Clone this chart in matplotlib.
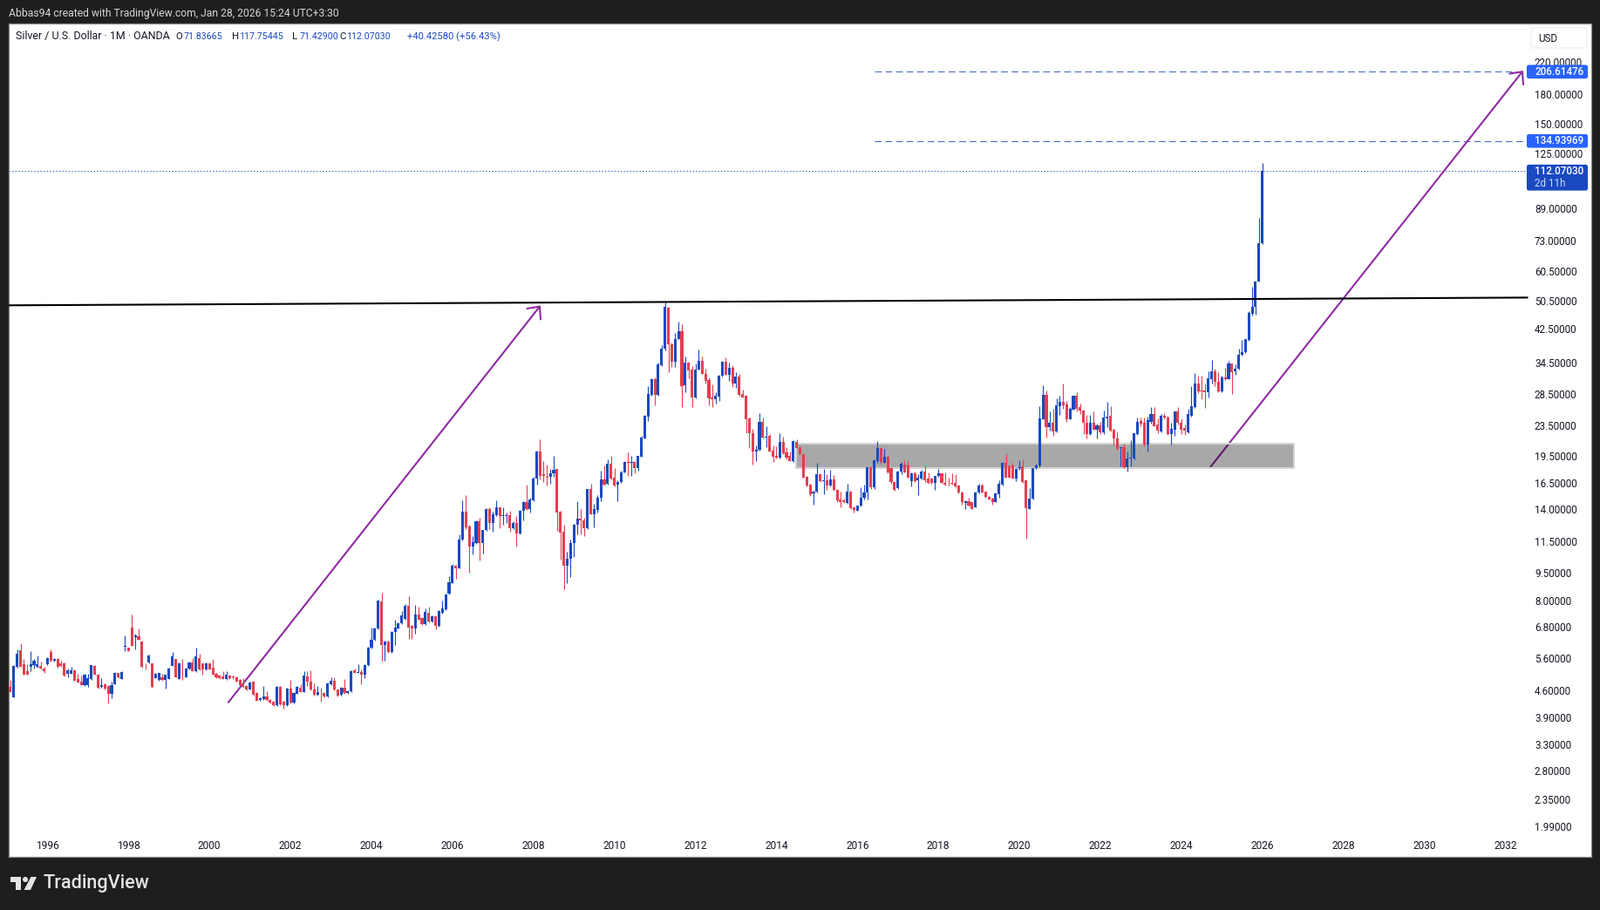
import numpy as np
import matplotlib
matplotlib.use('Agg')
import matplotlib.pyplot as plt
from matplotlib.patches import FancyBboxPatch, Rectangle, Polygon, Circle

# monthly candles, Feb 1995 to Jan 2026
opens = [
    4.70, 4.41, 5.32, 5.88, 5.41, 5.16, 5.32, 5.37, 5.32, 5.34,
    5.25, 5.40, 5.82, 5.52, 5.58, 5.43, 5.43, 5.08, 5.10, 5.21,
    4.93, 4.84, 4.74, 4.75, 4.93, 5.34, 5.07, 4.69, 4.78, 4.71,
    4.49, 4.78, 5.11, 4.94, 6.02, 5.97, 6.78, 6.39, 6.41, 6.21,
    5.38, 5.46, 5.42, 4.96, 4.89, 4.97, 4.89, 4.94, 5.35, 5.57,
    4.94, 4.94, 4.99, 5.26, 5.46, 5.16, 5.60, 5.42, 5.22, 5.42,
    5.29, 5.08, 5.03, 5.01, 4.93, 5.03, 5.02, 4.99, 4.91, 4.78,
    4.72, 4.63, 4.84, 4.53, 4.33, 4.35, 4.43, 4.33, 4.28, 4.20,
    4.69, 4.28, 4.19, 4.65, 4.26, 4.51, 4.68, 4.56, 5.02, 4.85,
    4.61, 4.47, 4.55, 4.53, 4.43, 4.78, 4.87, 4.61, 4.47, 4.68,
    4.53, 4.57, 5.20, 5.13, 5.15, 5.06, 5.36, 5.97, 6.28, 6.71,
    7.94, 6.08, 6.21, 5.81, 6.58, 6.74, 6.93, 7.13, 7.73, 6.83,
    6.74, 7.33, 7.17, 6.90, 7.39, 7.03, 7.24, 6.83, 7.39, 7.56,
    8.32, 8.9, 9.9, 9.75, 11.6, 13.83, 12.6, 11.15, 11.4, 12.98,
    11.4, 12.3, 14.0, 12.9, 13.5, 14.15, 13.45, 13.45, 13.5, 12.45,
    12.9, 12.05, 13.85, 14.6, 14.0, 14.8, 16.9, 20.0, 17.4, 17.1,
    17.1, 17.5, 17.9, 13.8, 12.2, 9.9, 10.33, 11.4, 12.7, 13.2,
    13.05, 12.45, 15.85, 13.6, 13.95, 15.0, 16.8, 16.35, 18.5, 17.0,
    16.3, 16.6, 17.6, 18.7, 18.6, 18.7, 18.05, 19.35, 21.7, 24.7,
    28.3, 31.1, 28.25, 33.9, 37.6, 48.5, 38.7, 34.7, 39.9, 41.85,
    30.0, 34.5, 33.0, 27.85, 33.1, 34.9, 32.25, 31.05, 27.85, 27.6,
    28.0, 31.8, 34.65, 32.1, 33.5, 30.3, 31.7, 28.4, 28.2, 24.5,
    22.3, 19.95, 20.2, 23.95, 21.8, 22.0, 20.1, 19.5, 19.2, 21.15,
    19.9, 19.4, 18.85, 21.15, 20.5, 19.65, 17.1, 16.3, 15.45, 15.6,
    17.35, 16.65, 16.7, 16.2, 16.8, 15.8, 14.85, 14.8, 14.55, 15.65,
    14.15, 13.9, 14.3, 15.0, 15.5, 18.1, 16.0, 18.8, 20.4, 18.65,
    19.35, 18.05, 16.6, 15.95, 17.65, 18.45, 18.35, 16.65, 17.5, 16.7,
    16.9, 17.7, 16.9, 16.9, 16.45, 17.15, 17.45, 16.5, 16.5, 16.5,
    16.5, 16.2, 15.55, 14.55, 14.7, 14.6, 14.2, 15.5, 16.25, 15.6,
    15.15, 14.95, 14.65, 15.4, 16.3, 18.6, 18.25, 18.3, 16.95, 18.05,
    18.25, 16.7, 14.05, 14.95, 18.0, 18.3, 24.4, 28.35, 23.2, 23.8,
    22.6, 26.4, 27.1, 26.7, 24.4, 25.9, 28.1, 26.2, 25.7, 23.9,
    22.2, 23.9, 22.9, 23.5, 22.5, 24.5, 24.9, 22.8, 21.7, 20.4,
    20.5, 18.1, 19.1, 19.1, 22.2, 24.1, 23.8, 20.9, 24.0, 25.1,
    23.6, 22.6, 24.9, 24.6, 22.2, 22.9, 25.5, 23.9, 23.1, 22.5,
    24.9, 26.3, 30.4, 29.1, 29.0, 28.7, 31.2, 32.7, 30.6, 28.9,
    31.5, 31.2, 34.3, 32.8, 33.2, 36.2, 36.9, 39.6, 46.7, 48.7,
    56.9, 71.83665,
]
highs = [
    4.89, 5.36, 5.92, 6.13, 5.58, 5.41, 5.86, 5.58, 5.71, 5.48,
    5.32, 5.65, 5.92, 5.61, 5.61, 5.51, 5.45, 5.25, 5.32, 5.23,
    5.08, 5.03, 5.08, 5.08, 5.38, 5.37, 5.10, 4.95, 4.80, 4.74,
    4.84, 5.15, 5.13, 5.17, 6.44, 5.98, 7.33, 6.50, 6.72, 6.23,
    5.43, 5.72, 5.44, 5.11, 5.13, 5.10, 5.07, 5.29, 5.81, 5.59,
    5.45, 5.58, 5.28, 5.50, 5.61, 5.98, 5.76, 5.44, 5.46, 5.44,
    5.58, 5.12, 5.05, 5.16, 5.18, 5.05, 5.04, 5.01, 4.93, 4.95,
    4.74, 4.85, 4.88, 4.55, 4.40, 4.72, 4.57, 4.35, 4.29, 4.73,
    4.71, 4.30, 4.68, 4.91, 4.56, 4.73, 4.78, 5.16, 5.18, 5.20,
    4.80, 4.72, 4.67, 4.55, 4.83, 4.99, 4.99, 4.63, 4.70, 4.93,
    4.60, 5.20, 5.25, 5.39, 5.22, 5.39, 6.02, 6.78, 6.78, 8.03,
    8.38, 6.25, 6.23, 6.62, 7.10, 7.00, 7.50, 7.83, 8.20, 6.86,
    7.77, 7.69, 7.20, 7.60, 7.69, 7.30, 7.27, 7.53, 7.97, 8.35,
    9.26, 10.0, 9.95, 12.0, 14.8, 15.3, 12.7, 11.9, 13.1, 13.3,
    12.35, 14.1, 14.2, 13.8, 14.8, 14.2, 14.15, 13.7, 13.85, 13.0,
    13.45, 13.95, 14.75, 16.3, 15.05, 17.1, 20.1, 21.5, 18.8, 18.4,
    17.95, 19.5, 17.95, 13.9, 12.75, 10.8, 11.65, 12.8, 14.7, 14.0,
    13.3, 15.9, 16.4, 14.5, 15.25, 17.8, 18.3, 19.0, 19.5, 18.0,
    16.7, 17.8, 18.85, 19.9, 19.4, 18.8, 19.5, 22.0, 25.0, 29.8,
    31.3, 31.5, 34.6, 38.4, 49.9, 48.7, 39.0, 41.4, 44.3, 43.6,
    35.8, 34.7, 33.7, 34.3, 37.5, 35.8, 33.2, 31.5, 30.15, 28.7,
    32.1, 34.8, 35.65, 34.5, 34.0, 32.6, 32.2, 29.3, 28.3, 24.6,
    23.0, 20.7, 25.35, 24.6, 23.3, 22.2, 20.7, 20.6, 22.3, 21.9,
    20.5, 20.0, 21.4, 21.5, 20.55, 19.7, 17.15, 16.35, 15.7, 18.65,
    17.4, 17.95, 17.35, 17.85, 17.25, 15.85, 15.65, 14.95, 16.4, 15.7,
    14.2, 14.35, 16.0, 16.3, 18.15, 18.2, 19.0, 21.3, 20.5, 20.3,
    19.4, 18.1, 16.65, 17.75, 18.7, 18.9, 18.8, 17.55, 17.7, 17.35,
    17.85, 18.3, 17.6, 17.0, 17.2, 17.95, 17.5, 17.6, 17.0, 17.5,
    17.35, 16.25, 15.6, 14.8, 15.05, 14.65, 15.6, 16.35, 16.35, 15.65,
    15.2, 15.0, 15.5, 16.7, 18.75, 19.8, 18.4, 18.65, 18.0, 18.95,
    19.05, 16.75, 15.95, 18.05, 18.5, 26.4, 29.95, 29.0, 25.6, 26.0,
    27.7, 28.1, 30.3, 27.3, 26.2, 28.2, 28.8, 26.9, 25.9, 25.0,
    25.0, 25.6, 23.7, 24.0, 25.7, 27.1, 26.4, 23.0, 22.6, 20.55,
    20.95, 20.0, 21.4, 22.4, 24.6, 24.6, 24.6, 24.8, 26.3, 26.2,
    24.5, 25.1, 25.3, 24.9, 23.8, 25.6, 26.2, 24.5, 23.6, 26.0,
    29.8, 32.4, 31.8, 31.9, 30.4, 32.7, 35.0, 33.2, 32.5, 31.8,
    33.5, 34.8, 34.4, 34.1, 37.6, 39.6, 40.0, 47.3, 55.0, 57.0,
    84.2, 117.75445,
]
lows = [
    4.54, 4.40, 5.29, 5.31, 5.05, 5.05, 5.16, 5.25, 5.29, 5.24,
    5.13, 5.38, 5.48, 5.48, 5.29, 5.32, 5.01, 4.99, 5.08, 4.87,
    4.82, 4.74, 4.72, 4.70, 4.91, 5.05, 4.65, 4.67, 4.63, 4.24,
    4.37, 4.77, 4.96, 4.92, 5.86, 5.84, 6.03, 5.93, 6.26, 5.29,
    5.22, 5.44, 4.68, 4.95, 4.87, 4.87, 4.65, 4.92, 5.33, 4.97,
    4.92, 4.90, 4.97, 5.24, 5.16, 5.14, 5.20, 5.06, 5.20, 5.22,
    5.05, 4.96, 4.93, 4.92, 4.91, 4.94, 4.92, 4.84, 4.73, 4.68,
    4.59, 4.61, 4.45, 4.30, 4.31, 4.33, 4.31, 4.24, 4.18, 4.18,
    4.20, 4.11, 4.17, 4.24, 4.24, 4.49, 4.54, 4.54, 4.72, 4.59,
    4.45, 4.45, 4.29, 4.41, 4.41, 4.76, 4.59, 4.43, 4.45, 4.51,
    4.51, 4.55, 5.11, 5.11, 4.78, 4.95, 5.34, 5.95, 6.25, 6.68,
    5.51, 5.51, 5.79, 5.78, 6.08, 6.72, 6.90, 7.10, 6.32, 6.32,
    6.53, 7.08, 6.86, 6.88, 7.00, 7.00, 6.70, 6.80, 7.37, 7.54,
    8.3, 8.88, 9.15, 9.72, 11.55, 12.4, 9.5, 10.6, 11.3, 10.2,
    10.65, 12.25, 12.4, 12.2, 13.4, 12.45, 12.75, 12.85, 12.2, 12.4,
    11.15, 12.0, 13.1, 13.95, 13.75, 14.75, 16.3, 16.8, 16.6, 16.2,
    16.4, 17.1, 12.25, 10.3, 8.55, 8.87, 9.25, 10.45, 12.0, 12.0,
    11.9, 12.4, 13.55, 12.5, 13.7, 14.7, 16.2, 16.3, 16.85, 16.15,
    14.7, 16.5, 17.55, 17.15, 17.2, 17.5, 17.8, 19.3, 21.6, 24.1,
    28.2, 26.5, 28.2, 33.7, 37.2, 32.55, 33.6, 33.6, 39.8, 26.25,
    28.7, 31.4, 26.25, 27.7, 33.0, 32.2, 30.4, 26.55, 26.25, 26.8,
    27.2, 31.7, 32.0, 30.9, 29.7, 29.6, 28.2, 27.8, 22.3, 20.4,
    18.45, 18.8, 20.1, 21.7, 20.5, 19.95, 18.7, 19.1, 19.1, 19.7,
    19.0, 18.8, 18.7, 20.4, 19.6, 17.0, 16.1, 15.2, 14.4, 15.55,
    16.6, 15.4, 15.8, 16.1, 15.7, 14.6, 14.2, 14.55, 14.5, 14.0,
    13.7, 13.85, 14.25, 14.9, 14.9, 15.9, 15.9, 18.6, 18.5, 18.6,
    17.5, 16.4, 15.7, 15.9, 17.4, 17.55, 17.0, 16.1, 16.6, 15.25,
    16.85, 16.55, 16.4, 16.4, 15.75, 17.1, 16.45, 16.25, 16.25, 16.3,
    16.05, 15.45, 14.4, 14.0, 14.25, 14.0, 14.15, 15.45, 15.5, 15.05,
    14.85, 14.4, 14.6, 15.0, 16.25, 17.0, 17.0, 16.9, 16.65, 17.85,
    16.5, 11.7, 14.0, 14.85, 17.9, 18.1, 24.3, 21.8, 22.7, 22.0,
    22.5, 25.0, 26.0, 24.0, 24.3, 25.8, 25.6, 25.1, 22.2, 21.6,
    22.1, 22.8, 21.6, 22.2, 22.2, 23.2, 22.6, 20.7, 20.2, 18.25,
    18.0, 17.7, 18.25, 19.0, 22.1, 23.4, 20.6, 20.0, 23.7, 23.3,
    22.3, 22.5, 24.5, 22.1, 20.8, 22.0, 23.6, 22.2, 22.1, 22.4,
    24.8, 26.1, 28.6, 27.6, 26.1, 27.8, 30.4, 29.9, 28.8, 28.8,
    31.0, 31.1, 28.5, 32.0, 33.0, 36.0, 36.7, 39.4, 46.0, 46.4,
    56.7, 71.429,
]
closes = [
    4.55, 5.34, 5.76, 5.32, 5.06, 5.06, 5.39, 5.52, 5.39, 5.25,
    5.16, 5.61, 5.52, 5.58, 5.32, 5.34, 5.03, 5.20, 5.20, 4.88,
    4.83, 4.75, 5.06, 4.95, 5.36, 5.06, 4.67, 4.75, 4.65, 4.50,
    4.75, 5.12, 4.98, 5.15, 6.04, 5.86, 6.05, 6.44, 6.28, 5.30,
    5.36, 5.70, 4.69, 5.09, 5.11, 4.89, 5.05, 5.26, 5.67, 4.99,
    5.43, 4.92, 5.26, 5.46, 5.18, 5.67, 5.22, 5.23, 5.43, 5.24,
    5.06, 4.98, 4.95, 4.94, 5.07, 4.96, 4.99, 4.86, 4.75, 4.70,
    4.61, 4.82, 4.47, 4.32, 4.37, 4.43, 4.33, 4.26, 4.20, 4.70,
    4.22, 4.19, 4.65, 4.26, 4.53, 4.70, 4.56, 5.03, 4.86, 4.61,
    4.47, 4.55, 4.54, 4.43, 4.80, 4.87, 4.61, 4.45, 4.68, 4.53,
    4.57, 5.18, 5.13, 5.15, 5.06, 5.36, 5.99, 6.28, 6.73, 7.99,
    6.08, 6.21, 5.81, 6.58, 6.78, 6.94, 7.29, 7.74, 6.78, 6.74,
    7.33, 7.10, 6.90, 7.46, 7.03, 7.26, 6.85, 7.49, 7.59, 8.30,
    8.92, 9.9, 9.75, 11.6, 13.83, 12.53, 11.15, 11.45, 13.0, 11.4,
    12.3, 14.0, 12.9, 13.55, 14.15, 13.4, 13.5, 13.5, 12.45, 12.9,
    12.05, 13.85, 14.65, 14.0, 14.85, 16.95, 20.0, 17.2, 17.15, 17.05,
    17.5, 17.85, 13.75, 12.15, 9.9, 10.35, 11.4, 12.7, 13.2, 13.05,
    12.45, 15.85, 13.6, 14.0, 15.0, 16.8, 16.3, 18.5, 16.9, 16.2,
    16.6, 17.6, 18.7, 18.6, 18.7, 18.05, 19.4, 21.75, 24.9, 28.45,
    31.1, 28.3, 34.2, 37.7, 48.7, 38.7, 34.7, 40.0, 41.85, 29.9,
    34.5, 32.85, 27.85, 33.15, 34.9, 32.25, 30.9, 27.75, 27.6, 28.15,
    31.9, 34.65, 32.1, 33.5, 30.3, 31.7, 28.3, 27.9, 24.4, 22.3,
    19.95, 20.2, 23.95, 21.8, 21.9, 20.0, 19.35, 19.2, 21.15, 19.75,
    19.2, 18.85, 21.25, 20.45, 19.65, 17.05, 16.2, 15.4, 15.65, 17.35,
    16.65, 16.7, 16.2, 16.8, 15.75, 14.8, 14.65, 14.6, 15.65, 14.1,
    13.95, 14.3, 15.05, 15.55, 18.1, 16.0, 18.95, 20.4, 18.7, 19.35,
    17.55, 16.6, 15.75, 17.7, 18.55, 17.6, 17.05, 17.5, 16.65, 17.0,
    17.7, 16.7, 16.5, 16.5, 17.15, 17.5, 16.5, 16.3, 16.45, 16.35,
    16.1, 15.5, 14.6, 14.75, 14.3, 14.05, 15.55, 16.2, 15.55, 15.1,
    14.9, 14.65, 15.45, 16.35, 18.6, 17.05, 17.05, 16.95, 17.95, 18.1,
    16.6, 14.1, 14.95, 18.0, 18.35, 24.5, 28.35, 23.2, 23.8, 22.6,
    26.5, 27.1, 26.6, 24.3, 26.0, 28.1, 26.0, 25.7, 23.8, 22.2,
    23.9, 22.9, 23.5, 22.5, 24.6, 24.8, 22.7, 21.6, 20.3, 20.5,
    18.1, 19.1, 19.25, 22.3, 24.0, 23.7, 20.9, 24.2, 25.1, 23.4,
    22.7, 24.9, 24.6, 22.2, 23.0, 25.5, 23.8, 22.9, 22.7, 25.1,
    26.4, 30.4, 28.9, 28.9, 28.8, 31.3, 32.7, 30.7, 28.9, 31.5,
    31.2, 34.3, 32.6, 33.2, 36.2, 36.8, 39.8, 46.9, 48.7, 56.7,
    71.8, 112.0703,
]

# axis labels
year_labels = [1996, 1998, 2000, 2002, 2004, 2006, 2008, 2010, 2012, 2014,
               2016, 2018, 2020, 2022, 2024, 2026, 2028, 2030, 2032]
price_ticks = [220, 180, 150, 125, 89, 73, 60.5, 50.5, 42.5, 34.5, 28.5, 23.5,
               19.5, 16.5, 14, 11.5, 9.5, 8, 6.8, 5.6, 4.6, 3.9, 3.3, 2.8,
               2.35, 1.99]

# drawings on the chart, x in months since Feb 1995, y in USD
target_prices = [206.61476, 134.93969]
last_price = 112.0703
resistance_x = [-0.5, 449.5]
resistance_y = [49.1, 51.5]
zone_x = [232.8, 380.4]
zone_y = [18.03, 20.97]
arrow_1 = [(64.6, 4.27), (157.1, 49.05)]
arrow_2 = [(355.6, 18.14), (448.3, 208.0)]

BLUE = '#1a49c0'
RED = '#e33e50'
TAG_BLUE = '#2962ff'
PURPLE = '#8f2aa3'
DARK = '#1e1e1e'
TEXT = '#131722'
FONT = ['Roboto', 'DejaVu Sans']

plt.rcParams['font.family'] = FONT

W, H = 1835, 1044
fig = plt.figure(figsize=(W / 100, H / 100), dpi=100, facecolor=DARK)

# chart pane, in pixels 10..1825 across and 27..983 down
ax = fig.add_axes([10 / W, (H - 983) / H, 1815 / W, 956 / H], facecolor='white')
ax.set_yscale('log')
ax.set_xlim(-0.49, 468.5)
ax.set_ylim(1.651, 277.9)

o = np.array(opens)
h = np.array(highs)
l = np.array(lows)
c = np.array(closes)
x = np.arange(len(c))
up = c >= o

for mask, color in [(up, BLUE), (~up, RED)]:
    ax.vlines(x[mask], l[mask], h[mask], color=color, lw=0.8, zorder=4)
    ax.bar(x[mask], np.abs(c - o)[mask], bottom=np.minimum(o, c)[mask],
           width=0.8, color=color, linewidth=0, zorder=4)

# grey support zone sits over the arrow but under the candles
ax.add_patch(Rectangle((zone_x[0], zone_y[0]), zone_x[1] - zone_x[0], zone_y[1] - zone_y[0],
                       facecolor=(0, 0, 0, 0.34), edgecolor='#d4d4d4', lw=1.5, zorder=3))

ax.plot(resistance_x, resistance_y, color='black', lw=1.5, zorder=5)

for p in target_prices:
    ax.plot([256.1, 449.5], [p, p], color='#3f63bd', lw=0.7, ls=(0, (8, 4.4)), zorder=2)
ax.plot([-0.5, 449.5], [last_price, last_price], color=BLUE, lw=0.7, ls=(0, (1.3, 2.4)), zorder=2)

for start, end in [arrow_1, arrow_2]:
    ax.annotate('', xy=end, xytext=start, zorder=2,
                arrowprops=dict(arrowstyle='->,head_length=0.78,head_width=0.72', color=PURPLE,
                                lw=1.5, mutation_scale=10, shrinkA=0, shrinkB=0))

# axis labels sit inside the pane like on the TradingView screen
ax.yaxis.tick_right()
ax.set_yticks(price_ticks)
ax.set_yticklabels(['%.5f' % p for p in price_ticks])
ax.minorticks_off()
ax.tick_params(axis='y', length=0, pad=-46.8, labelsize=8.4, labelcolor=TEXT)
for lab in ax.get_yticklabels():
    lab.set_verticalalignment('center_baseline')
ax.set_xticks([11 + 12 * (y - 1996) for y in year_labels])
ax.set_xticklabels([str(y) for y in year_labels])
ax.tick_params(axis='x', length=0, pad=-13.7, labelsize=8.6, labelcolor=TEXT)
for s in ax.spines.values():
    s.set_color('#8c8c8c')
    s.set_linewidth(0.9)

# overlay in pixel coordinates for the screen furniture
fg = fig.add_axes([0, 0, 1, 1], facecolor='none', zorder=10)
fg.set_xlim(0, W)
fg.set_ylim(H, 0)
fg.axis('off')


def price_y(p):
    return H - ax.transData.transform((0, p))[1]


def tag(top, bottom, color):
    fg.add_patch(FancyBboxPatch((1752, top + 1.5), 68, bottom - top - 3,
                                boxstyle='round,pad=0,rounding_size=1.5',
                                mutation_aspect=1, facecolor=color, edgecolor=color, lw=1.5))


for p in target_prices:
    y = price_y(p)
    tag(y - 8.3, y + 8.3, TAG_BLUE)
    fg.text(1760, y, '%.5f' % p, color='white', fontsize=8.4, va='center', ha='left', fontweight='medium')

y = price_y(last_price)
tag(y - 8, y + 22.7, BLUE)
fg.text(1760, y, '%.5f' % last_price, color='white', fontsize=8.4, va='center', ha='left', fontweight='medium')
fg.text(1760, y + 14.4, '2d 11h', color='#cfdaf7', fontsize=8.4, va='center', ha='left')

fg.add_patch(FancyBboxPatch((1756, 32), 64, 23, boxstyle='round,pad=0,rounding_size=2',
                            facecolor='white', edgecolor='#ececec', lw=0.8))
fg.text(1764, 44.3, 'USD', color=TEXT, fontsize=8.4, va='center', ha='left')

# header
fg.text(10, 15, 'Abbas94 created with TradingView.com, Jan 28, 2026 15:24 UTC+3:30',
        color='#d6d6d6', fontsize=8.7, va='center', ha='left')

legend_parts = [
    (18, 'Silver / U.S. Dollar · 1M · OANDA', TEXT, 8.9),
    (201.7, 'O', TEXT, 8.2), (210.8, '71.83665', BLUE, 7.7),
    (265.7, 'H', TEXT, 8.2), (274, '117.75445', BLUE, 7.7),
    (335.3, 'L', TEXT, 8.2), (343.2, '71.42900', BLUE, 7.7),
    (389.5, 'C', TEXT, 8.2), (397.4, '112.07030', BLUE, 7.7),
    (466.6, '+40.42580 (+56.43%)', BLUE, 8.1),
]
for px, txt, col, size in legend_parts:
    fg.text(px, 42, txt, color=col, fontsize=size, va='center', ha='left')

# footer logo
LOGO = '#e4e4e4'
fg.add_patch(Polygon([(12, 1006), (24, 1006), (24, 1021), (18.3, 1021), (18.3, 1011.7), (12, 1011.7)],
                     closed=True, facecolor=LOGO, edgecolor='none'))
fg.add_patch(Circle((29, 1009), 3, facecolor=LOGO, edgecolor='none'))
fg.add_patch(Polygon([(35.5, 1006), (42, 1006), (35, 1021), (27.5, 1021)],
                     closed=True, facecolor=LOGO, edgecolor='none'))
fg.text(49, 1014, 'TradingView', color=LOGO, fontsize=15.6, va='center', ha='left', fontweight='medium')

fig.savefig('out.png', dpi=100, facecolor=DARK)
